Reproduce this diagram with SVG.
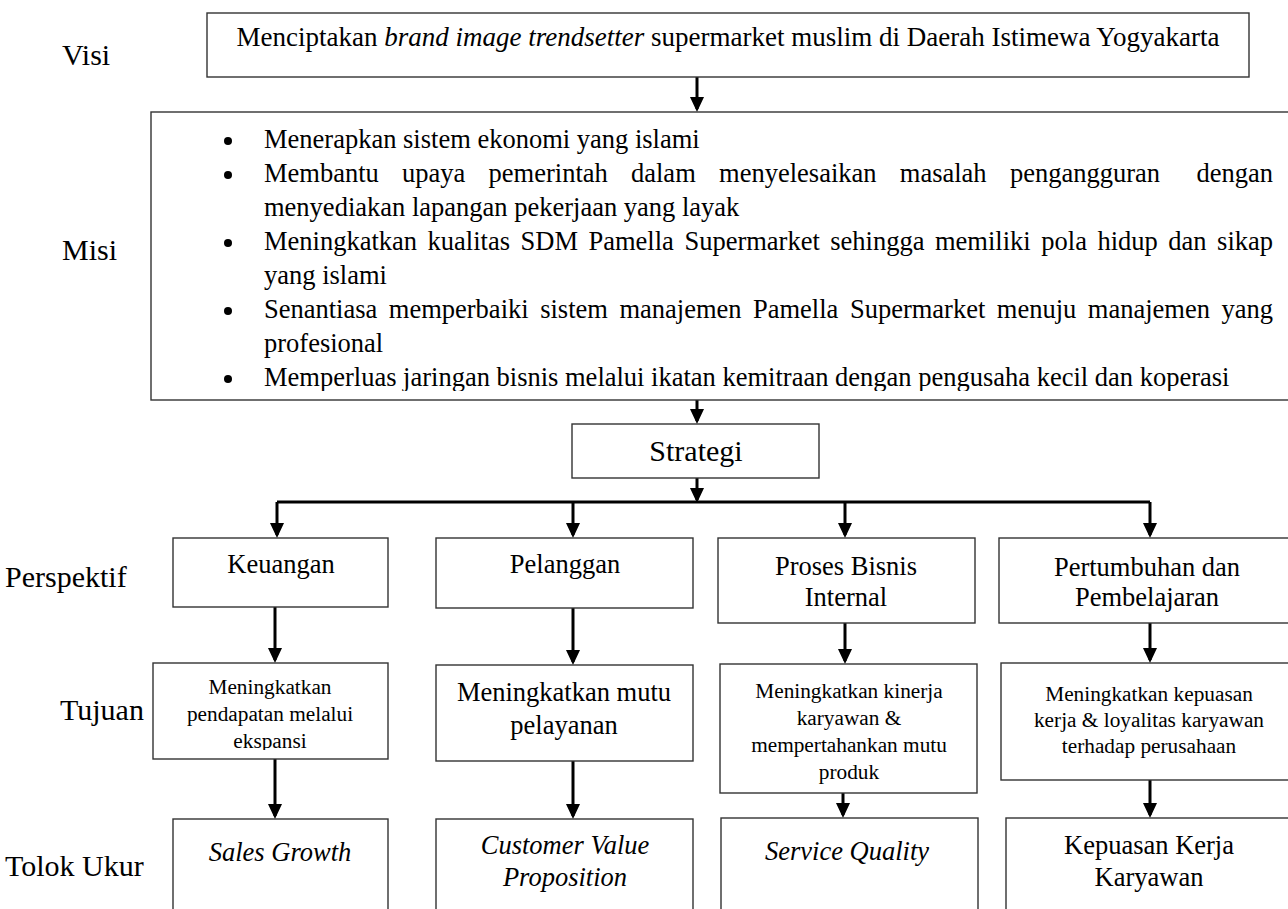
<svg xmlns="http://www.w3.org/2000/svg" width="1288" height="909" viewBox="0 0 1288 909">
<style>
text{font-family:"Liberation Serif","Times New Roman",serif;fill:#000}
.lbl{font-size:30px}
.t{font-size:26.5px}
.s{font-size:21.3px}
.c{text-anchor:middle}
.i{font-style:italic}
.box{fill:#fff;stroke:#333;stroke-width:1.4}
.con{fill:none;stroke:#000;stroke-width:3}
.arr{marker-end:url(#ah)}
</style>
<defs>
<marker id="ah" viewBox="0 0 15 14" refX="12" refY="7" markerWidth="15" markerHeight="14" markerUnits="userSpaceOnUse" orient="auto">
<path d="M0,0 L15,7 L0,14 z" fill="#000"/>
</marker>
<clipPath id="clipMisi"><rect x="151" y="112" width="1140" height="279"/></clipPath>
<clipPath id="clipT1"><rect x="153" y="663" width="235" height="87"/></clipPath>
</defs>

<g id="labels">
<text class="lbl" x="62" y="65">Visi</text>
<text class="lbl" x="62" y="260">Misi</text>
<text class="lbl" x="5" y="587">Perspektif</text>
<text class="lbl" x="60" y="720">Tujuan</text>
<text class="lbl" x="5" y="876">Tolok Ukur</text>
</g>

<g id="connectors">
<path class="con arr" d="M697,77 V109"/>
<path class="con arr" d="M697,400 V421"/>
<path class="con arr" d="M697,478 V500"/>
<path class="con" d="M277,502 H1150"/>
<path class="con arr" d="M277,502 V535"/>
<path class="con arr" d="M573,502 V535"/>
<path class="con arr" d="M845,502 V535"/>
<path class="con arr" d="M1150,502 V535"/>
<path class="con arr" d="M275,604 V660"/>
<path class="con arr" d="M573,608 V662"/>
<path class="con arr" d="M845,623 V661"/>
<path class="con arr" d="M1150,623 V660"/>
<path class="con arr" d="M275,759 V816"/>
<path class="con arr" d="M573,761 V816"/>
<path class="con arr" d="M843,793 V815"/>
<path class="con arr" d="M1150,780 V815"/>
</g>

<g id="visi">
<rect class="box" x="207" y="13" width="1042" height="64"/>
<text class="c" style="font-size:27px" x="728" y="46">Menciptakan <tspan class="i">brand image trendsetter</tspan> supermarket muslim di Daerah Istimewa Yogyakarta</text>
</g>

<g id="misi">
<rect class="box" x="151" y="112" width="1140" height="288"/>
<g fill="#000">
<circle cx="228" cy="141" r="4"/>
<circle cx="228" cy="175" r="4"/>
<circle cx="228" cy="243" r="4"/>
<circle cx="228" cy="311" r="4"/>
<circle cx="228" cy="379" r="4"/>
</g>
<g clip-path="url(#clipMisi)">
<text class="t" x="264" y="148">Menerapkan sistem ekonomi yang islami</text>
<text class="t" y="182"><tspan x="264">Membantu</tspan><tspan x="402.1">upaya</tspan><tspan x="488.6">pemerintah</tspan><tspan x="631">dalam</tspan><tspan x="719.1">menyelesaikan</tspan><tspan x="899.8">masalah</tspan><tspan x="1009.9">pengangguran</tspan><tspan x="1196.5">dengan</tspan></text>
<text class="t" x="264" y="216">menyediakan lapangan pekerjaan yang layak</text>
<text class="t" y="250"><tspan x="264">Meningkatkan</tspan><tspan x="427.6">kualitas</tspan><tspan x="520.6">SDM</tspan><tspan x="588.5">Pamella</tspan><tspan x="684.4">Supermarket</tspan><tspan x="830.3">sehingga</tspan><tspan x="935">memiliki</tspan><tspan x="1041.3">pola</tspan><tspan x="1097.4">hidup</tspan><tspan x="1168.3">dan</tspan><tspan x="1217.1">sikap</tspan></text>
<text class="t" x="264" y="284">yang islami</text>
<text class="t" y="318"><tspan x="264">Senantiasa</tspan><tspan x="388.8">memperbaiki</tspan><tspan x="540.2">sistem</tspan><tspan x="619.4">manajemen</tspan><tspan x="753">Pamella</tspan><tspan x="849.9">Supermarket</tspan><tspan x="996.8">menuju</tspan><tspan x="1087.8">manajemen</tspan><tspan x="1221.5">yang</tspan></text>
<text class="t" x="264" y="352">profesional</text>
<text class="t" x="264" y="386">Memperluas jaringan bisnis melalui ikatan kemitraan dengan pengusaha kecil dan koperasi</text>
</g>
</g>

<g id="strategi">
<rect class="box" x="572" y="424" width="247" height="54"/>
<text class="c" style="font-size:30px" x="696" y="461">Strategi</text>
</g>

<g id="keuangan">
<rect class="box" x="173" y="538" width="215" height="69"/>
<text class="t c" x="281" y="573">Keuangan</text>
</g>
<g id="pelanggan">
<rect class="box" x="436" y="538" width="257" height="70"/>
<text class="t c" x="565" y="573">Pelanggan</text>
</g>
<g id="proses">
<rect class="box" x="718" y="538" width="257" height="85"/>
<text class="t c" x="846" y="575">Proses Bisnis</text>
<text class="t c" x="846" y="606">Internal</text>
</g>
<g id="pertumbuhan">
<rect class="box" x="999" y="538" width="297" height="85"/>
<text class="t c" x="1147" y="576">Pertumbuhan dan</text>
<text class="t c" x="1147" y="606">Pembelajaran</text>
</g>

<g id="tujuan1">
<rect class="box" x="153" y="663" width="235" height="96"/>
<g clip-path="url(#clipT1)">
<text class="s c" x="270" y="694">Meningkatkan</text>
<text class="s c" x="270" y="721">pendapatan melalui</text>
<text class="s c" x="270" y="748">ekspansi</text>
</g>
</g>
<g id="tujuan2">
<rect class="box" x="436" y="665" width="257" height="96"/>
<text class="t c" x="564" y="701">Meningkatkan mutu</text>
<text class="t c" x="564" y="734">pelayanan</text>
</g>
<g id="tujuan3">
<rect class="box" x="720" y="664" width="257" height="129"/>
<text class="s c" x="849" y="698">Meningkatkan kinerja</text>
<text class="s c" x="849" y="725">karyawan &amp;</text>
<text class="s c" x="849" y="752">mempertahankan mutu</text>
<text class="s c" x="849" y="779">produk</text>
</g>
<g id="tujuan4">
<rect class="box" x="1001" y="663" width="295" height="117"/>
<text class="s c" x="1149" y="701">Meningkatkan kepuasan</text>
<text class="s c" x="1149" y="727">kerja &amp; loyalitas karyawan</text>
<text class="s c" x="1149" y="753">terhadap perusahaan</text>
</g>

<g id="tolok1">
<rect class="box" x="173" y="819" width="215" height="100"/>
<text class="t c i" x="280" y="861">Sales Growth</text>
</g>
<g id="tolok2">
<rect class="box" x="436" y="819" width="257" height="100"/>
<text class="t c i" x="565" y="854">Customer Value</text>
<text class="t c i" x="565" y="886">Proposition</text>
</g>
<g id="tolok3">
<rect class="box" x="721" y="818" width="257" height="101"/>
<text class="t c i" x="847" y="860">Service Quality</text>
</g>
<g id="tolok4">
<rect class="box" x="1006" y="818" width="290" height="101"/>
<text class="t c" x="1149" y="854">Kepuasan Kerja</text>
<text class="t c" x="1149" y="886">Karyawan</text>
</g>
</svg>
